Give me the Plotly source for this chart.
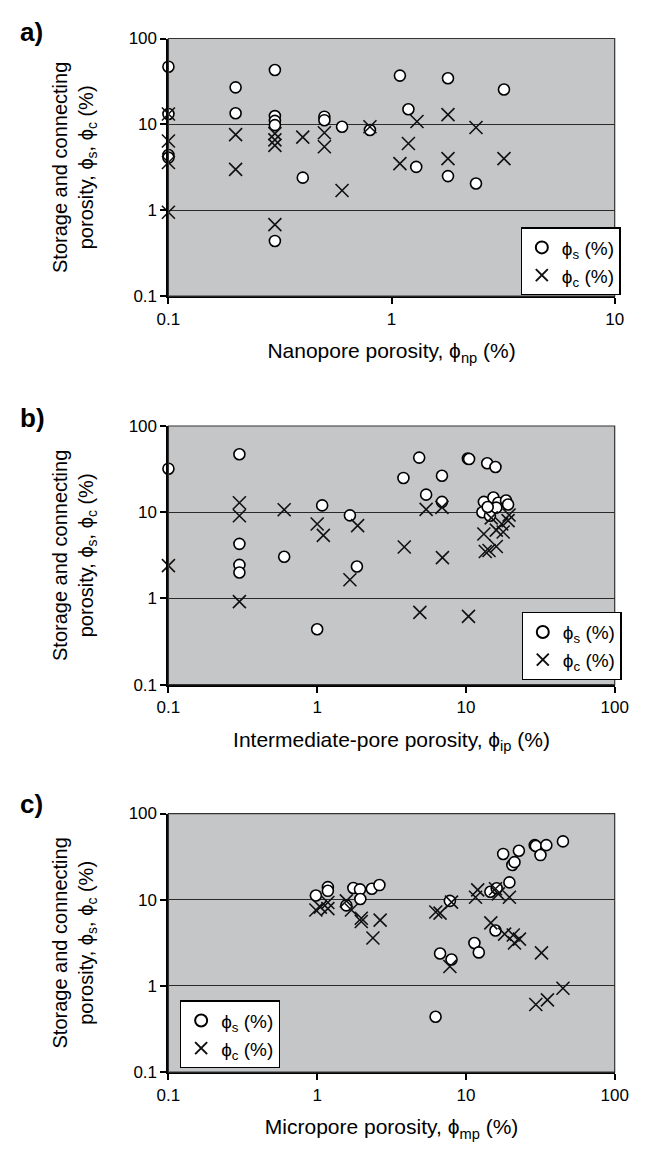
import plotly.graph_objects as go

# ---------------- data ----------------
# a) nanopore porosity
a_s_x = [0.1, 0.1, 0.1, 0.1, 0.2, 0.2, 0.3, 0.3, 0.3, 0.3, 0.3, 0.4, 0.5, 0.5, 0.6, 0.8,
         1.09, 1.19, 1.29, 1.79, 1.79, 2.39, 3.19]
a_s_y = [47, 13.2, 4.4, 4.1, 27, 13.5, 43, 12.5, 11.0, 9.8, 0.44, 2.4, 12.3, 11.2, 9.4, 8.6,
         37, 15, 3.2, 34.5, 2.5, 2.05, 25.5]
a_c_x = [0.1, 0.1, 0.1, 0.1, 0.2, 0.2, 0.3, 0.3, 0.3, 0.3, 0.4, 0.5, 0.5, 0.6, 0.8,
         1.09, 1.19, 1.3, 1.79, 1.79, 2.39, 3.19]
a_c_y = [13.2, 6.4, 3.6, 0.95, 7.6, 3.0, 7.8, 6.6, 5.7, 0.68, 7.1, 8.0, 5.5, 1.7, 9.4,
         3.5, 6.0, 10.8, 13.0, 4.0, 9.2, 4.0]

# b) intermediate-pore porosity
b_s_x = [0.1, 0.3, 0.3, 0.3, 0.3, 0.6, 1.0, 1.08, 1.66, 1.85, 3.8, 4.85, 5.4, 6.9, 6.9,
         10.3, 10.5, 13.9, 15.8, 13.2, 15.3, 16.5, 18.6, 19.2, 12.9, 14.5, 16.0, 14.0]
b_s_y = [32, 47, 4.3, 2.45, 2.0, 3.05, 0.44, 12.0, 9.2, 2.35, 25, 43, 16, 26.5, 13.2,
         42, 41.5, 37, 33.5, 13.2, 14.8, 12.9, 13.7, 12.3, 10.0, 9.1, 11.3, 11.5]
b_c_x = [0.1, 0.3, 0.3, 0.3, 0.6, 1.0, 1.1, 1.66, 1.87, 3.85, 4.9, 5.4, 6.9, 6.95, 10.4,
         13.2, 16.0, 17.4, 19.2, 19.5, 17.8, 13.5, 14.3, 16.0, 14.8]
b_c_y = [2.4, 12.9, 9.1, 0.92, 10.7, 7.3, 5.4, 1.65, 7.0, 3.95, 0.69, 10.8, 11.4, 2.98, 0.62,
         5.6, 6.2, 7.3, 8.0, 9.3, 5.9, 3.5, 3.6, 4.0, 8.6]

# c) micropore porosity
c_s_x = [0.98, 1.18, 1.18, 1.57, 1.75, 1.94, 1.95, 2.33, 2.62, 6.25, 6.7, 7.8, 8.0,
         11.4, 12.2, 14.6, 15.8, 16.1, 19.6, 17.8, 20.5, 21.2, 22.7, 29.0, 29.5, 31.7,
         34.7, 44.9]
c_s_y = [11.2, 14.0, 12.7, 8.6, 13.7, 13.2, 10.2, 13.4, 14.8, 0.44, 2.38, 9.7, 2.03,
         3.15, 2.45, 12.4, 4.4, 13.6, 15.9, 34, 25.3, 27.3, 37, 43, 42, 33, 43, 47.5]
c_c_x = [0.98, 1.05, 1.18, 1.18, 1.57, 1.70, 1.98, 1.98, 2.65, 2.37, 6.27, 6.7, 8.0,
         7.8, 11.6, 12.0, 15.8, 16.5, 19.6, 14.7, 18.2, 20.8, 21.2, 22.9, 32.2, 29.5,
         35.3, 44.9]
c_c_y = [7.6, 8.2, 7.9, 9.3, 9.7, 7.6, 6.1, 5.6, 5.8, 3.6, 7.2, 7.0, 9.4, 1.68,
         10.7, 13.0, 13.4, 11.7, 10.7, 5.4, 4.0, 3.9, 3.15, 3.5, 2.42, 0.61, 0.69, 0.94]

tick_vals = [0.1, 1, 10, 100]
tick_text = ["0.1", "1", "10", "100"]
panel_labels = ["a)", "b)", "c)"]
x_titles = [
    "Nanopore porosity, \u03d5<sub>np</sub> (%)",
    "Intermediate-pore porosity, \u03d5<sub>ip</sub> (%)",
    "Micropore porosity, \u03d5<sub>mp</sub> (%)",
]
y_title = "Storage and connecting<br>porosity, \u03d5<sub>s</sub>, \u03d5<sub>c</sub> (%)"
legend_s = "\u03d5<sub>s</sub> (%)"
legend_c = "\u03d5<sub>c</sub> (%)"

# ---------------- layout geometry (pixels) ----------------
W, H = 645, 1154
X0, X1 = 163, 628
panel_rows = [(30, 292), (424, 687), (818, 1081)]
label_centers = [23, 416, 808]
x_ranges = [[-1, 1], [-1, 2], [-1, 2]]
legend_pos = [(530, 222), (531, 613), (175, 1008)]

FONT = "Liberation Sans, Arial, Helvetica, sans-serif"
BG = "#c5c6c8"

def px_x(p):
    return p / W

def px_y(p):
    return 1 - p / H

fig = go.Figure()

series = [
    (a_s_x, a_s_y, a_c_x, a_c_y),
    (b_s_x, b_s_y, b_c_x, b_c_y),
    (c_s_x, c_s_y, c_c_x, c_c_y),
]

layout = dict(
    width=W, height=H,
    margin=dict(l=0, r=0, t=0, b=0),
    paper_bgcolor="white",
    plot_bgcolor=BG,
    font=dict(family=FONT, color="black", size=17),
    showlegend=True,
    shapes=[], annotations=[],
)

for i, (sx, sy, cx, cy) in enumerate(series):
    n = "" if i == 0 else str(i + 1)
    xa, ya = "x" + n, "y" + n
    leg = "legend" + n
    top, bot = panel_rows[i]

    fig.add_trace(go.Scatter(
        x=sx, y=sy, mode="markers", name=legend_s, xaxis=xa, yaxis=ya, legend=leg,
        cliponaxis=False,
        marker=dict(symbol="circle", size=11, color="white",
                    line=dict(color="black", width=1.6)),
    ))
    fig.add_trace(go.Scatter(
        x=cx, y=cy, mode="markers", name=legend_c, xaxis=xa, yaxis=ya, legend=leg,
        cliponaxis=False,
        marker=dict(symbol="x-thin", size=13, color="black",
                    line=dict(color="#111111", width=1.6)),
    ))

    layout["xaxis" + n] = dict(
        type="log", range=x_ranges[i], domain=[px_x(X0), px_x(X1)],
        anchor=ya, tickvals=tick_vals, ticktext=tick_text,
        ticks="outside", ticklen=6, tickwidth=1.5, tickcolor="black",
        showline=True, linecolor="black", linewidth=2, showgrid=False,
        zeroline=False, tickfont=dict(size=17),
        title=dict(text=x_titles[i], font=dict(size=21), standoff=16),
    )
    layout["yaxis" + n] = dict(
        type="log", range=[-1, 2], domain=[px_y(bot), px_y(top)],
        anchor=xa, tickvals=tick_vals, ticktext=tick_text,
        ticks="outside", ticklen=6, tickwidth=1.5, tickcolor="black",
        showline=True, linecolor="black", linewidth=2,
        showgrid=True, gridcolor="#2a2a2a", gridwidth=1.2,
        zeroline=False, tickfont=dict(size=17),
        title=dict(text=y_title, font=dict(size=20), standoff=30),
    )
    lx, ly = legend_pos[i]
    layout[leg] = dict(
        x=px_x(lx), y=px_y(ly), xanchor="left", yanchor="top",
        bgcolor="white", bordercolor="black", borderwidth=1.2,
        font=dict(size=19, family=FONT), itemsizing="constant",
        itemwidth=30, tracegroupgap=2,
    )
    # thin frame on top/right edges of the plotting area
    layout["shapes"].append(dict(
        type="rect", xref="paper", yref="paper",
        x0=px_x(X0), x1=px_x(X1), y0=px_y(bot), y1=px_y(top),
        line=dict(color="#333333", width=1.2), fillcolor="rgba(0,0,0,0)",
        layer="above",
    ))
    layout["annotations"].append(dict(
        text="<b>" + panel_labels[i] + "</b>", xref="paper", yref="paper",
        x=px_x(6), y=px_y(label_centers[i]), xanchor="left", yanchor="middle",
        showarrow=False, font=dict(size=26, family=FONT),
    ))

fig.update_layout(**layout)
fig.write_html("out.html")
